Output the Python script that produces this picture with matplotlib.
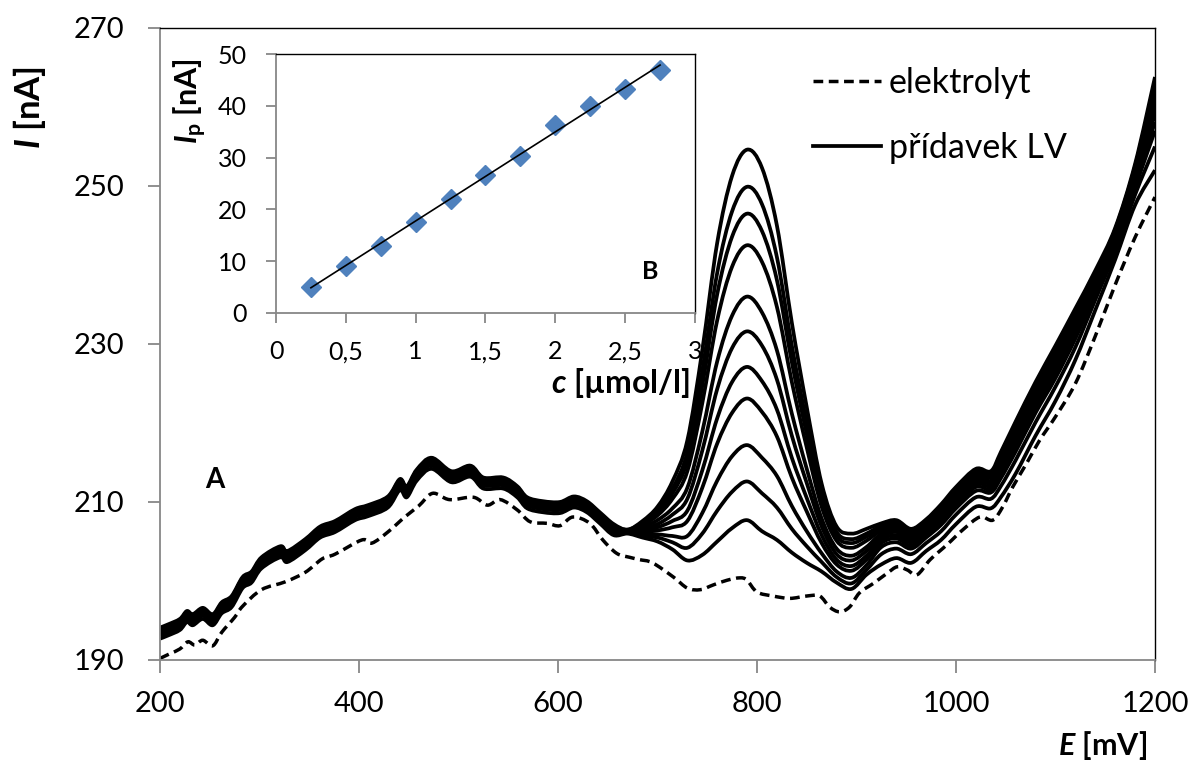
import numpy as np
import matplotlib
matplotlib.use("Agg")
import matplotlib.pyplot as plt
from matplotlib.ticker import FixedLocator
from matplotlib.path import Path
from matplotlib.patches import PathPatch
from matplotlib.lines import Line2D

plt.rcParams['font.family'] = ['Lato', 'DejaVu Sans']
plt.rcParams['mathtext.fontset'] = 'custom'
plt.rcParams['mathtext.it'] = 'Lato:italic:bold'
plt.rcParams['mathtext.rm'] = 'Lato:bold'

# electrolyte (blank) voltammogram
E_el = [200, 210, 220, 228, 235, 243, 253, 262, 275, 283, 302, 326, 346, 363, 376, 403, 413, 429, 446, 460,
        474, 491, 515, 529, 542, 559, 572, 589, 602, 615, 632, 645, 659, 672, 682, 695, 716, 730, 743, 756,
        770, 783, 790, 800, 816, 833, 850, 863, 873, 883, 893, 903, 917, 931, 941, 951, 961, 974, 991, 1007,
        1024, 1037, 1047, 1057, 1071, 1084, 1100, 1120, 1140, 1160, 1180, 1200]
I_el = [190.2, 190.8, 191.4, 192.3, 191.9, 192.5, 191.8, 193.5, 195.4, 196.8, 198.9, 199.9, 201.1, 202.8, 203.4,
        205.2, 204.8, 206.2, 208.1, 209.5, 211.1, 210.3, 210.6, 209.6, 210.3, 209.0, 207.5, 207.3, 207.0, 208.1,
        207.3, 205.2, 203.5, 203.0, 202.7, 202.3, 200.5, 199.1, 198.9, 199.5, 200.1, 200.4, 200.1, 198.6, 198.1,
        197.8, 198.1, 198.1, 196.7, 196.1, 196.7, 198.5, 199.7, 201.0, 201.8, 201.4, 200.8, 202.7, 204.6, 206.5,
        208.1, 207.7, 209.4, 211.9, 214.9, 217.8, 220.8, 225.0, 231.0, 237.5, 243.5, 248.6]

# additions of LV - common part before the peak (curves overlap there)
E_left = [200, 208, 220, 227, 233, 243, 253, 262, 272, 283, 292, 302, 321, 328, 346, 361, 376, 396, 409, 429,
          441, 448, 458, 473, 493, 512, 525, 545, 559, 569, 585, 602, 616, 629, 642, 656]
I_left = [194.0, 194.4, 195.1, 196.1, 195.7, 196.5, 195.7, 197.2, 198.0, 200.4, 201.1, 202.9, 204.3, 203.7,
          205.2, 206.8, 207.5, 209.0, 209.5, 210.6, 212.8, 211.9, 214.0, 215.5, 213.8, 214.5, 213.0, 213.0,
          211.9, 210.5, 210.0, 209.9, 210.6, 210.0, 208.6, 207.1]
left_shift = [-1.3, -0.9, -0.75, -0.6, -0.5, -0.4, -0.3, -0.2, -0.15, -0.05, 0.1]

# peak region, one row per addition
E_peak = [670, 685, 700, 715, 730, 745, 760, 775, 790, 805, 820, 835, 850, 865, 880, 895, 910]
I_peak = [
    [206.0, 205.5, 205.0, 204.0, 202.6, 203.3, 205.0, 206.7, 207.7, 206.3, 205.2, 203.6, 202.3, 201.2, 199.8, 199.0, 200.8],
    [206.1, 205.7, 205.5, 204.9, 204.2, 206.0, 208.9, 211.3, 212.6, 211.1, 209.3, 206.6, 204.4, 202.4, 200.5, 199.7, 201.4],
    [206.1, 205.9, 205.9, 205.7, 205.7, 208.6, 212.7, 215.8, 217.2, 215.6, 213.3, 209.5, 206.3, 203.5, 201.2, 200.4, 202.0],
    [206.2, 206.2, 206.4, 206.8, 207.6, 211.8, 217.4, 221.3, 223.1, 221.4, 218.3, 213.1, 208.8, 204.8, 202.1, 201.3, 202.7],
    [206.2, 206.4, 206.8, 207.6, 208.9, 214.0, 220.6, 225.2, 227.1, 225.3, 221.7, 215.6, 210.5, 205.8, 202.7, 201.9, 203.2],
    [206.3, 206.6, 207.2, 208.4, 210.4, 216.5, 224.3, 229.5, 231.6, 229.8, 225.5, 218.4, 212.4, 206.9, 203.4, 202.6, 203.8],
    [206.3, 206.8, 207.7, 209.2, 211.8, 218.9, 227.8, 233.6, 236.0, 234.0, 229.2, 221.2, 214.2, 207.9, 204.1, 203.2, 204.3],
    [206.4, 207.1, 208.3, 210.4, 213.9, 222.5, 233.0, 239.8, 242.5, 240.4, 234.7, 225.2, 216.9, 209.4, 205.1, 204.2, 205.1],
    [206.4, 207.2, 208.6, 211.1, 215.2, 224.7, 236.3, 243.6, 246.5, 244.3, 238.1, 227.7, 218.6, 210.4, 205.7, 204.8, 205.6],
    [206.5, 207.4, 209.0, 211.7, 216.3, 226.6, 239.0, 246.8, 249.9, 247.7, 241.0, 229.8, 220.0, 211.2, 206.2, 205.3, 206.0],
    [206.5, 207.6, 209.4, 212.6, 217.8, 229.2, 242.8, 251.3, 254.6, 252.3, 245.0, 232.7, 222.0, 212.3, 206.9, 206.0, 206.6],
]

# region after the peak
E_right = [925, 940, 955, 970, 985, 1000, 1020, 1035, 1045, 1060, 1080, 1100, 1120, 1140, 1160, 1180, 1200]
I_right = [
    [202.1, 202.9, 202.3, 203.8, 205.2, 207.2, 209.4, 209.2, 210.6, 213.6, 218.4, 222.8, 228.0, 234.3, 240.7, 247.6, 252.0],
    [203.4, 204.1, 203.4, 204.8, 206.3, 208.4, 210.6, 210.4, 212.0, 215.3, 220.1, 224.6, 229.6, 235.6, 241.7, 248.9, 255.0],
    [204.3, 204.9, 204.1, 205.5, 207.1, 209.2, 211.4, 211.2, 213.0, 216.4, 221.3, 225.7, 230.7, 236.4, 242.4, 249.8, 257.0],
    [204.8, 205.4, 204.5, 205.9, 207.5, 209.6, 211.9, 211.6, 213.6, 217.0, 221.9, 226.4, 231.4, 236.9, 242.8, 250.3, 258.1],
    [205.2, 205.8, 204.9, 206.2, 207.9, 210.0, 212.3, 212.0, 214.0, 217.6, 222.5, 227.0, 231.9, 237.3, 243.1, 250.7, 259.1],
    [205.6, 206.2, 205.2, 206.5, 208.3, 210.4, 212.7, 212.4, 214.5, 218.1, 223.0, 227.6, 232.4, 237.7, 243.4, 251.1, 260.0],
    [206.0, 206.5, 205.5, 206.8, 208.6, 210.7, 213.0, 212.7, 214.9, 218.6, 223.5, 228.1, 232.9, 238.1, 243.7, 251.5, 260.9],
    [206.4, 206.8, 205.8, 207.1, 208.9, 211.1, 213.3, 213.1, 215.3, 219.0, 224.0, 228.5, 233.3, 238.4, 244.0, 251.9, 261.7],
    [206.7, 207.1, 206.1, 207.3, 209.2, 211.3, 213.6, 213.3, 215.6, 219.4, 224.4, 229.0, 233.7, 238.7, 244.2, 252.2, 262.4],
    [207.0, 207.4, 206.3, 207.6, 209.4, 211.6, 213.9, 213.6, 216.0, 219.8, 224.8, 229.4, 234.1, 239.0, 244.5, 252.5, 263.1],
    [207.3, 207.7, 206.6, 207.8, 209.7, 211.9, 214.2, 213.9, 216.3, 220.2, 225.2, 229.8, 234.5, 239.3, 244.7, 252.8, 263.8],
]

# calibration (inset B)
conc = [0.25, 0.5, 0.75, 1.0, 1.25, 1.5, 1.75, 2.0, 2.25, 2.5, 2.75]
Ip = [5.0, 9.0, 12.9, 17.6, 22.0, 26.6, 30.4, 36.4, 40.0, 43.3, 46.9]

x_ticks = [200, 400, 600, 800, 1000, 1200]
y_ticks = [190, 210, 230, 250, 270]
inset_xticks = [0, 0.5, 1, 1.5, 2, 2.5, 3]
inset_xticklabels = ['0', '0,5', '1', '1,5', '2', '2,5', '3']
inset_yticks = [0, 10, 20, 30, 40, 50]

gray = '#878787'
dash = (0, (2.8, 1.6))


# smoothed line through the points (like the "smoothed line" option in a spreadsheet)
def smooth_path(x, y):
    p = np.column_stack([x, y]).astype(float)
    n = len(p)
    verts = [p[0]]
    codes = [Path.MOVETO]
    for j in range(n - 1):
        p0 = p[j - 1] if j > 0 else p[j]
        p3 = p[j + 2] if j + 2 < n else p[j + 1]
        verts += [p[j] + (p[j + 1] - p0) / 6, p[j + 1] - (p3 - p[j]) / 6, p[j + 1]]
        codes += [Path.CURVE4] * 3
    return Path(verts, codes)


def style_axes(ax, tick_len, pad, size):
    for s in ['left', 'bottom']:
        ax.spines[s].set_color(gray)
        ax.spines[s].set_linewidth(1.3)
    for s in ['top', 'right']:
        ax.spines[s].set_color('black')
        ax.spines[s].set_linewidth(1.0)
    ax.tick_params(direction='out', length=tick_len, width=1.3, color=gray,
                   labelsize=size, pad=pad, top=False, right=False)


fig = plt.figure(figsize=(11.94, 7.62), dpi=100)
ax = fig.add_axes([160/1194, 1-660/762, 995/1194, 632/762])

ax.add_patch(PathPatch(smooth_path(E_el, I_el), fill=False, ec='black', lw=2.5, ls=dash))
for k in range(len(I_peak)):
    e = np.concatenate([E_left, E_peak, E_right])
    i = np.concatenate([np.array(I_left) + left_shift[k], I_peak[k], I_right[k]])
    ax.add_patch(PathPatch(smooth_path(e, i), fill=False, ec='black', lw=2.7, joinstyle='round'))

ax.set_xlim(200, 1200)
ax.set_ylim(190, 270)
ax.xaxis.set_major_locator(FixedLocator(x_ticks))
ax.yaxis.set_major_locator(FixedLocator(y_ticks))
style_axes(ax, 9, 13, 21)
ax.tick_params(axis='y', pad=17)

ax.text(255, 212.8, 'A', fontsize=20, fontweight='bold', ha='center', va='center')
fig.text(1147/1194, 1-745/762, '$E$ [mV]', fontsize=22, fontweight='bold', ha='right', va='center')
fig.text(29/1194, 1-108/762, '$I$ [nA]', fontsize=25, fontweight='bold', rotation=90,
         ha='center', va='center')

handles = [Line2D([], [], color='black', lw=2.5, ls=dash), Line2D([], [], color='black', lw=2.7)]
ax.legend(handles, ['elektrolyt', 'přídavek LV'], loc='upper left',
          bbox_to_anchor=(813/1194, 1-67/762), bbox_transform=fig.transFigure,
          frameon=False, fontsize=24.5, handlelength=2.0, handletextpad=0.22, labelspacing=0.98,
          borderpad=0, borderaxespad=0)

# inset B
axi = fig.add_axes([276/1194, 1-312.7/762, 419/1194, 258.4/762])
axi.plot(conc, Ip, ls='none', marker='D', ms=10, color='#4F81BD', zorder=2)
slope, icpt = np.polyfit(conc, Ip, 1)
cfit = np.array([conc[0], conc[-1]])
axi.plot(cfit, slope*cfit + icpt, color='black', lw=1.2, zorder=3)
axi.set_xlim(0, 3)
axi.set_ylim(0, 50)
axi.set_xticks(inset_xticks)
axi.set_xticklabels(inset_xticklabels)
axi.set_yticks(inset_yticks)
style_axes(axi, 7, 13, 18)
axi.tick_params(axis='y', pad=14)
axi.text(2.68, 7.9, 'B', fontsize=18, fontweight='bold', ha='center', va='center')
fig.text(690/1194, 1-383/762, '$c$ [µmol/l]', fontsize=23, fontweight='bold', ha='right', va='center')
fig.text(190/1194, 1-101/762, r'$I_\mathrm{p}$ [nA]', fontsize=22, fontweight='bold', rotation=90,
         ha='center', va='center')

fig.savefig('out.png', dpi=100)
